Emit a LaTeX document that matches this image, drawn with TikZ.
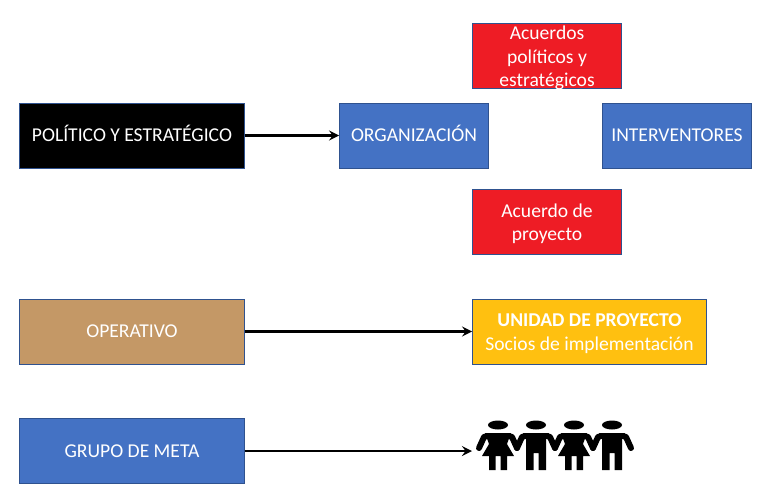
\documentclass[tikz,border=0pt]{standalone}
\usepackage{fontspec}
\usepackage{xcolor}
\usepackage{tikz}
\usetikzlibrary{arrows}
\setmainfont{Carlito}
\definecolor{azul}{HTML}{4472C4}
\definecolor{borde}{HTML}{2F528F}
\definecolor{rojo}{HTML}{EE1C25}
\definecolor{cafe}{HTML}{C49866}
\definecolor{amarillo}{HTML}{FFC010}

\tikzset{
    caja/.style={draw=borde, line width=0.45pt, text=white, align=center, inner sep=0pt, minimum height=1.3cm, text depth=0pt, text height=7.2pt, font=\fontsize{11.15}{13.5}\selectfont},
    cajaancha/.style={caja, minimum width=4.49cm},
    cajamedia/.style={caja, minimum width=2.98cm},
    flecha/.style={->, >=stealth, line width=1.5pt},
    brazos/.style={black, line width=3.4pt, line cap=round, line join=round},
    hombre/.pic={
        \fill[black] (0,0) ellipse (10 and 4.5);
        \fill[black] (-13,8) -- (13,8) -- (10,14) -- (10,45) -- (2.5,45) -- (2.5,28) -- (-2.5,28) -- (-2.5,45) -- (-10,45) -- (-10,14) -- cycle;
        \draw[brazos] (-11,11) -- (-14,12) -- (-19,23);
        \draw[brazos] (11,11) -- (14,12) -- (19,23);
    },
    mujer/.pic={
        \fill[black] (0,0) ellipse (10 and 4.5);
        \fill[black] (-13,8) -- (13,8) -- (9,19) -- (16,31) -- (9,31) -- (9,45) -- (2.5,45) -- (2.5,31) -- (-2.5,31) -- (-2.5,45) -- (-9,45) -- (-9,31) -- (-16,31) -- (-9,19) -- cycle;
        \draw[brazos] (-11,11) -- (-14,12) -- (-19,23);
        \draw[brazos] (11,11) -- (14,12) -- (19,23);
    }
}

\begin{document}
\begin{tikzpicture}[x=0.02cm, y=-0.02cm]
    \useasboundingbox (0,0) rectangle (761,495);

    \node[cajaancha, fill=black] (politico) at (132,135.5) {POLÍTICO Y ESTRATÉGICO};
    \node[cajamedia, fill=azul] (organizacion) at (414,135.5) {ORGANIZACIÓN};
    \node[cajamedia, fill=azul] (interventores) at (677,135.5) {INTERVENTORES};
    \node[cajamedia, fill=rojo, text height=35pt] (acuerdos) at (547,56) {Acuerdos\\políticos y\\estratégicos};
    \node[cajamedia, fill=rojo, text height=21.3pt] (proyecto) at (547,222) {Acuerdo de\\proyecto};
    \node[cajaancha, fill=cafe] (operativo) at (132,331.5) {OPERATIVO};
    \node[caja, minimum width=4.68cm, fill=amarillo, text height=21.1pt] (unidad) at (589.5,331.5) {\textbf{UNIDAD DE PROYECTO}\\Socios de implementación};
    \node[cajaancha, fill=azul] (grupo) at (132,451) {GRUPO DE META};
    \coordinate (personas) at (472,451);

    \pic at (498,425) {mujer};
    \pic at (536,425) {hombre};
    \pic at (574,425) {mujer};
    \pic at (612,425) {hombre};

    \draw[flecha] (politico) -- (organizacion);
    \draw[flecha] (operativo) -- (unidad);
    \draw[flecha] (grupo) -- (personas);
\end{tikzpicture}
\end{document}
